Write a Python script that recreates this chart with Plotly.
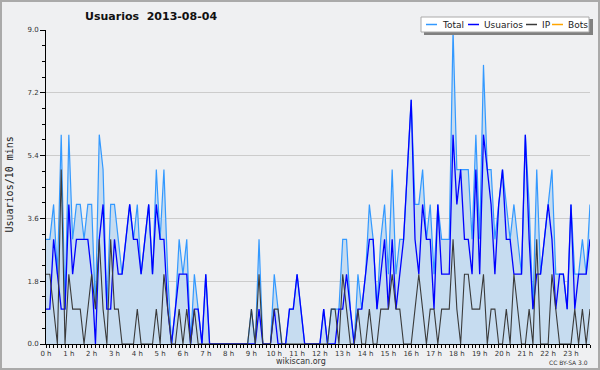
import plotly.graph_objects as go

# 10-minute slots of the day (0 = 00:00 ... 143 = 23:50)
slots = list(range(144))
hour_ticks = [h * 6 for h in range(24)]
hour_labels = [f"{h} h" for h in range(24)]
y_ticks = [0.0, 1.8, 3.6, 5.4, 7.2, 9.0]
y_labels = ["0.0", "1.8", "3.6", "5.4", "7.2", "9.0"]

total = [
    3, 3, 4, 2, 6, 1, 6, 3, 4, 4, 3, 4,
    4, 1, 6, 5, 1, 4, 4, 3, 2, 3, 4, 3,
    4, 2, 3, 4, 2, 5, 3, 5, 2, 0, 1, 3,
    2, 3, 0, 2, 1, 0, 2, 0, 0, 0, 0, 0,
    0, 0, 0, 0, 0, 0, 1, 0, 3, 0, 0, 0,
    2, 1, 0, 0, 1, 1, 2, 1, 0, 0, 0, 0,
    0, 1, 0, 1, 1, 1, 3, 3, 1, 0, 2, 1,
    2, 4, 3, 1, 3, 4, 2, 5, 2, 3, 3, 5,
    7, 4, 4, 5, 3, 4, 2, 4, 3, 3, 3, 9,
    5, 5, 5, 5, 3, 6, 3, 8, 5, 5, 3, 4,
    5, 4, 3, 4, 3, 2, 6, 4, 1, 5, 2, 3,
    4, 5, 2, 2, 2, 1, 4, 2, 2, 3, 2, 4,
]
usuarios = [
    1, 1, 3, 2, 1, 1, 4, 2, 3, 3, 3, 3,
    2, 0, 3, 4, 1, 1, 3, 2, 2, 3, 4, 3,
    3, 2, 3, 4, 2, 4, 3, 3, 1, 0, 1, 2,
    2, 2, 0, 1, 1, 0, 2, 0, 0, 0, 0, 0,
    0, 0, 0, 0, 0, 0, 0, 0, 1, 0, 0, 0,
    1, 0, 0, 0, 1, 1, 2, 1, 0, 0, 0, 0,
    0, 1, 0, 0, 0, 1, 1, 2, 1, 0, 1, 1,
    2, 3, 3, 1, 2, 3, 1, 3, 1, 2, 3, 5,
    7, 3, 2, 4, 3, 3, 1, 4, 2, 2, 2, 6,
    4, 5, 3, 3, 2, 5, 2, 6, 5, 4, 2, 4,
    5, 3, 3, 2, 2, 2, 6, 3, 1, 2, 2, 3,
    4, 3, 1, 2, 2, 1, 4, 1, 2, 2, 2, 3,
]
ip = [
    2, 2, 1, 0, 5, 0, 2, 1, 1, 1, 0, 1,
    2, 1, 3, 1, 0, 3, 1, 1, 0, 0, 0, 0,
    1, 0, 0, 0, 0, 1, 0, 2, 1, 0, 0, 1,
    0, 1, 0, 1, 0, 0, 0, 0, 0, 0, 0, 0,
    0, 0, 0, 0, 0, 0, 1, 0, 2, 0, 0, 0,
    1, 1, 0, 0, 0, 0, 0, 0, 0, 0, 0, 0,
    0, 0, 0, 1, 1, 0, 2, 1, 0, 0, 1, 0,
    0, 1, 0, 0, 1, 1, 1, 2, 1, 1, 0, 0,
    0, 1, 2, 1, 0, 1, 1, 0, 1, 1, 1, 3,
    1, 0, 2, 2, 1, 1, 1, 2, 0, 1, 1, 0,
    0, 1, 0, 2, 1, 0, 0, 1, 0, 3, 0, 0,
    0, 2, 1, 0, 0, 0, 0, 1, 0, 1, 0, 1,
]
bots = []

series_names = ["Total", "Usuarios", "IP", "Bots"]
series_colors = ["#3399ff", "#0000ff", "#3a3a3a", "#ffa500"]

W, H = 600, 370
ML, MR, MT, MB = 46, 10, 30, 26
PW, PH = W - ML - MR, H - MT - MB


def px(x):
    return (x - ML) / PW


def py(y):
    return (H - MB - y) / PH


fig = go.Figure()
fig.add_trace(go.Scatter(
    x=slots, y=total, name="Total", mode="lines", fill="tozeroy",
    fillcolor="rgb(198,220,240)", line=dict(color=series_colors[0], width=1.2),
    showlegend=False))
fig.add_trace(go.Scatter(
    x=slots, y=usuarios, name="Usuarios", mode="lines",
    line=dict(color=series_colors[1], width=1.3), showlegend=False))
fig.add_trace(go.Scatter(
    x=slots, y=ip, name="IP", mode="lines",
    line=dict(color=series_colors[2], width=1.1), showlegend=False))
fig.add_trace(go.Scatter(
    x=slots[:len(bots)], y=bots, name="Bots", mode="lines",
    line=dict(color=series_colors[3], width=1.2), showlegend=False))

tickfont = dict(family="DejaVu Sans", size=7, color="#333333")
fig.update_xaxes(
    range=[0, 143], showgrid=False, zeroline=False, showline=True,
    linecolor="black", linewidth=1, ticks="outside", ticklen=3,
    tickcolor="black", tickvals=hour_ticks, ticktext=hour_labels,
    tickfont=tickfont, ticklabelstandoff=0,
    minor=dict(dtick=1, ticks="outside", ticklen=3, tickcolor="black", showgrid=False))
fig.update_yaxes(
    range=[0, 9], showgrid=True, gridcolor="#cccccc", gridwidth=1,
    zeroline=False, showline=True, linecolor="black", linewidth=1,
    ticks="outside", ticklen=5, tickcolor="black",
    tickvals=y_ticks, ticktext=y_labels, tickfont=tickfont,
    minor=dict(dtick=0.45, ticks="outside", ticklen=3, tickcolor="black", showgrid=False))

shapes = []
annotations = []

# outer frame
shapes.append(dict(type="rect", xref="paper", yref="paper",
                   x0=px(1), x1=px(599), y0=py(369), y1=py(1),
                   line=dict(color="#aaaaaa", width=2), layer="below"))

# legend box with shadow
shapes.append(dict(type="rect", xref="paper", yref="paper",
                   x0=px(424), x1=px(593), y0=py(35), y1=py(19),
                   fillcolor="#808080", line=dict(width=0)))
shapes.append(dict(type="rect", xref="paper", yref="paper",
                   x0=px(421), x1=px(589), y0=py(32), y1=py(17),
                   fillcolor="white", line=dict(color="#aaaaaa", width=1)))
legend_line_x = [426, 468, 526, 552]
legend_text_x = [441, 483, 541, 567]
for name, color, lx, tx in zip(series_names, series_colors, legend_line_x, legend_text_x):
    shapes.append(dict(type="line", xref="paper", yref="paper",
                       x0=px(lx), x1=px(lx + 11), y0=py(24.5), y1=py(24.5),
                       line=dict(color=color, width=1.5)))
    annotations.append(dict(text=name, xref="paper", yref="paper",
                            x=px(tx), y=py(24.5), xanchor="left", yanchor="middle",
                            showarrow=False, borderpad=0,
                            font=dict(family="DejaVu Sans", size=9, color="#222222")))

# title
annotations.append(dict(text="<b>Usuarios  2013-08-04</b>", xref="paper", yref="paper",
                        x=px(84), y=py(16), xanchor="left", yanchor="middle",
                        showarrow=False, borderpad=0,
                        font=dict(family="DejaVu Sans", size=11, color="#111111")))
# y-axis title
annotations.append(dict(text="Usuarios/10 mins", xref="paper", yref="paper",
                        x=px(8.5), y=py(185), xanchor="center", yanchor="middle",
                        textangle=-90, showarrow=False, borderpad=0,
                        font=dict(family="DejaVu Sans Mono", size=10, color="#222222")))
# footers
annotations.append(dict(text="wikiscan.org", xref="paper", yref="paper",
                        x=px(300.5), y=py(361), xanchor="center", yanchor="middle",
                        showarrow=False, borderpad=0,
                        font=dict(family="DejaVu Sans", size=8, color="#333333")))
annotations.append(dict(text="CC BY-SA 3.0", xref="paper", yref="paper",
                        x=px(589), y=py(362), xanchor="right", yanchor="middle",
                        showarrow=False, borderpad=0,
                        font=dict(family="DejaVu Sans", size=6, color="#333333")))

fig.update_layout(
    width=W, height=H,
    margin=dict(l=ML, r=MR, t=MT, b=MB, pad=0),
    paper_bgcolor="#eff0f2", plot_bgcolor="#eff0f2",
    showlegend=False, shapes=shapes, annotations=annotations,
    hovermode=False,
)

fig.write_html("out.html", config={"displayModeBar": False, "staticPlot": True},
               post_script="document.body.style.margin='0px';document.body.style.overflow='hidden';")
